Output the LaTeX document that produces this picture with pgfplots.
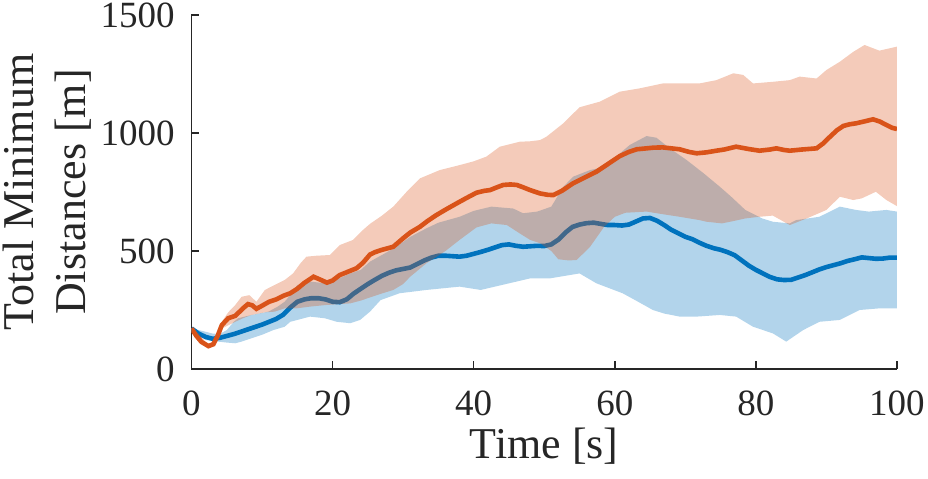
\documentclass[border=0pt]{standalone}
\usepackage{pgfplots}
\pgfplotsset{compat=1.18}
\usepackage{fontspec}
\setmainfont{Liberation Serif}
\definecolor{mblue}{HTML}{0072BD}
\definecolor{morange}{HTML}{D95319}
\definecolor{mtext}{HTML}{262626}
\begin{document}
\begin{tikzpicture}
\begin{axis}[
  name=ax,
  scale only axis,
  width=352.75pt, height=177pt,
  xmin=0, xmax=100, ymin=0, ymax=1500,
  xtick={0,20,40,60,80,100},
  ytick={0,500,1000,1500},
  axis x line*=bottom, axis y line*=left,
  tick align=inside,
  major tick length=3.8pt,
  axis line style={mtext, line width=0.8pt},
  every tick/.style={mtext, line width=0.8pt},
  /pgf/number format/assume math mode=true,
  /pgf/number format/1000 sep={},
  tick label style={font=\fontsize{18.5}{22}\selectfont, text=mtext, inner sep=0pt},
  xticklabel style={yshift=-10.5pt},
  yticklabel style={xshift=-8.25pt},
  xlabel={Time [s]},
  ylabel={Total Minimum\\Distances [m]},
  label style={font=\fontsize{22}{26}\selectfont, text=mtext, inner sep=0pt},
  xlabel style={at={(axis description cs:0.5,0)}, anchor=north, yshift=-29.5pt},
  ylabel style={at={(axis description cs:-0.141,0.5)}, anchor=south, align=center},
  clip=true,
]
% blue band
\addplot[draw=none, fill=mblue, fill opacity=0.3] coordinates {
(0,172) (1,165) (2,158) (3,150) (4,148) (5,165) (6,200) (6.6,215) (8.5,229) (10.9,243)
(12.2,264) (13.2,285) (14.2,320) (15,356) (17,370) (19,363) (21,385) (22.5,405) (24,420)
(25.3,455) (26.5,475) (28.6,510) (31,560) (33.3,596) (35,620) (38,645) (40,670) (42.5,688)
(45.6,680) (47,660) (49,667) (51,688) (52.7,772) (54.1,815) (56.5,843) (58.4,855) (60.2,900)
(62.1,949) (64.5,987) (65.9,980) (67.8,935) (70.2,885) (72.6,829) (74.9,772) (76.5,730)
(78.5,674) (80.9,638) (82.4,624) (84.8,617) (85.7,631) (89,645) (91.9,688) (94.2,674)
(96,667) (98.5,674) (100,667)
(100,257) (97.5,257) (94.7,250) (91.9,208) (89,200) (86.7,165) (84.3,116) (82.4,151)
(79.6,179) (77.2,222) (74.9,229) (71.6,222) (69.2,222) (67,235) (65.4,250) (63,290)
(61.1,321) (57.4,363) (55,405) (53,395) (50.8,384) (48,384) (44,356) (41,335) (38,349)
(33.3,335) (29.5,321) (26.8,292) (25.3,243) (23.9,208) (22.5,194) (20.6,200) (18.9,215)
(16.8,222) (14,200) (13.2,179) (11.6,165) (10,145) (8.5,130) (7.1,116) (6.2,109) (5,112)
(3.8,116) (2,123) (1,145) (0,172)
} -- cycle;
% blue mean
\addplot[mblue, line width=2.3pt] coordinates {
(0,172) (1,150) (2,136) (3,128) (4,132) (5,140) (6,148) (7,158) (8,168) (9,178) (10,188)
(11,200) (12,212) (13,230) (14,260) (15,285) (16,295) (17,300) (18,300) (19,295) (20,285)
(21,283) (22,295) (23,320) (24,340) (25,360) (26,378) (27,395) (28,408) (29,418) (30,424)
(31,430) (32,445) (33,460) (34,472) (35,480) (36,480) (37,478) (38,476) (39,480) (40,488)
(41,496) (42,505) (43,515) (44,525) (45,528) (46,522) (47,518) (48,520) (49,522) (50,521)
(51,528) (52,548) (53,578) (54,602) (55,612) (56,618) (57,620) (58,615) (59,610) (60,610)
(61,608) (62,612) (63,625) (64,638) (65,640) (66,628) (67,610) (68,590) (69,575) (70,560)
(71,550) (72,535) (73,522) (74,512) (75,505) (76,495) (77,482) (78,460) (79,438) (80,420)
(81,405) (82,390) (83,380) (84,377) (85,378) (86,388) (87,398) (88,410) (89,422) (90,432)
(91,440) (92,448) (93,458) (94,465) (95,473) (96,470) (97,467) (98,468) (99,472) (100,472)
};
% orange band
\addplot[draw=none, fill=morange, fill opacity=0.3] coordinates {
(0,172) (1,150) (2,115) (2.5,105) (3,118) (3.7,160) (4.3,200) (5.2,240) (6.2,271) (7.1,306)
(8.2,313) (9.2,285) (10.4,335) (11.8,356) (13.2,377) (14.4,405) (15.5,450) (16.3,476)
(17.7,480) (19.6,483) (21,525) (22.9,547) (24.3,589) (25.3,615) (27,650) (28.6,688)
(30.5,751) (32.4,808) (35.2,843) (38,864) (40,880) (41.8,900) (43.7,942) (46.5,963)
(48,965) (49.4,970) (50.3,984) (52.7,1041) (55,1109) (57.9,1133) (60.7,1175) (63.5,1189)
(66.8,1210) (70.2,1210) (72,1210) (74.4,1224) (76.8,1253) (78.2,1246) (79.6,1210)
(82.4,1217) (84.8,1224) (86.2,1239) (88.6,1231) (90,1267) (91.9,1302) (93.8,1344)
(95.4,1373) (97.5,1349) (100,1366)
(100,690) (98.5,716) (97,751) (95,723) (93.8,716) (91.9,730) (90,674) (87.2,638) (84.8,610)
(82.4,650) (80.5,645) (78.5,638) (77,628) (75.2,617) (73,624) (72,631) (69.2,645) (67,655)
(64.5,667) (61.5,662) (60,645) (58.5,603) (56.5,518) (54.6,462) (53.5,460) (52,465) (51,500)
(49.4,533) (48,547) (46.5,575) (44.7,610) (42.5,617) (40.4,600) (38,547) (36,500) (33.3,448)
(31,391) (30,360) (28.6,335) (27,320) (25.5,305) (24,290) (22.5,278) (21,275) (19,271)
(17,265) (14.9,257) (13.2,257) (11.8,243) (10.4,240) (8.5,229) (7.3,215) (6.2,200)
(5.2,185) (4.3,172) (3.7,130) (3,95) (2.5,90) (2,100) (1,140) (0,172)
} -- cycle;
% orange mean
\addplot[morange, line width=2.3pt] coordinates {
(0,172) (0.7,140) (1.4,115) (2.4,97) (3.1,105) (3.7,140) (4.3,186) (5.2,215) (6.2,225)
(7.3,257) (8,275) (8.6,270) (9.2,255) (10,268) (11,285) (12,295) (13,310) (14,321)
(15,340) (16,365) (17.3,391) (18,382) (19.2,366) (20,375) (21,398) (22,410) (23.4,427)
(24.3,450) (25.3,485) (26,495) (27,505) (28.6,518) (30,554) (31,578) (32.4,603) (33.5,628)
(34.7,652) (36,675) (37.6,702) (39,725) (40.4,747) (41.5,755) (42.3,758) (43.3,770)
(44.2,780) (45.2,782) (46.1,780) (47,770) (48,758) (49.4,744) (50.5,738) (51.3,737)
(52.5,755) (54.1,787) (55.5,808) (57.4,836) (59,868) (60.7,902) (62,920) (63.1,931)
(64.5,935) (65.5,938) (66.8,939) (68,935) (69.2,931) (70.5,920) (71.6,914) (73,918)
(74.4,925) (75.5,930) (77.2,942) (79,932) (80.5,925) (82,930) (82.9,935) (84,928)
(84.8,925) (86.5,930) (88.6,935) (89.5,955) (90.5,984) (91.5,1012) (92.4,1030) (93.3,1037)
(94.2,1041) (95.5,1050) (96.6,1058) (97.6,1048) (98.5,1034) (99.3,1022) (100,1017)
};
\end{axis}
\pgfresetboundingbox
\useasboundingbox ([xshift=-95.75pt,yshift=-54.5pt]ax.south west) rectangle ([xshift=15.5pt,yshift=7.5pt]ax.north east);
\end{tikzpicture}
\end{document}
